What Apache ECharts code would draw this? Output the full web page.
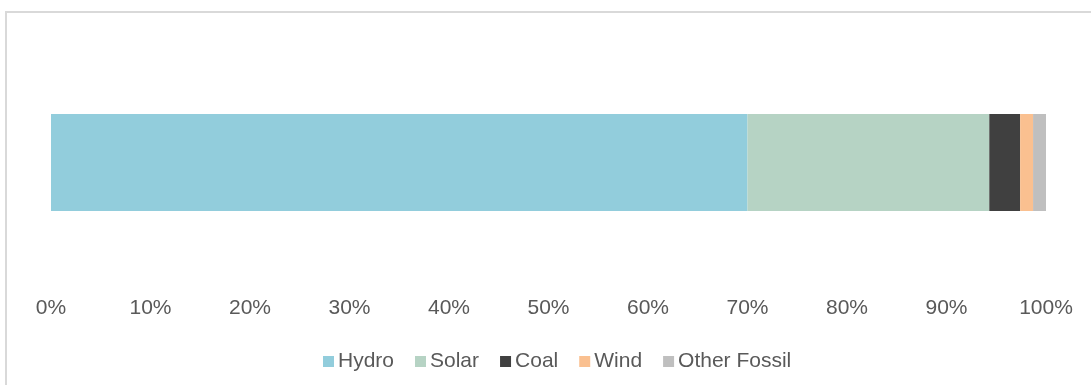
<!DOCTYPE html>
<html>
<head>
<meta charset="utf-8">
<script src="https://cdn.jsdelivr.net/npm/echarts@6/dist/echarts.min.js"></script>
<style>html,body{margin:0;padding:0;background:#fff;}#c{width:1091px;height:385px;}</style>
</head>
<body>
<div id="c"></div>
<script>
var categories = ['Share'];
var seriesNames = ['Hydro', 'Solar', 'Coal', 'Wind', 'Other Fossil'];
var hydro = [70.0];
var solar = [24.3];
var coal = [3.1];
var wind = [1.3];
var otherFossil = [1.3];
var tickLabels = ['0%','10%','20%','30%','40%','50%','60%','70%','80%','90%','100%'];
var colors = ['#92CDDC', '#B6D3C4', '#404040', '#FAC090', '#BFBFBF'];

var values = [hydro, solar, coal, wind, otherFossil];
var chart = echarts.init(document.getElementById('c'), null, {renderer: 'canvas'});
var font = '"Liberation Sans", Arial, sans-serif';
chart.setOption({
  animation: false,
  textStyle: {fontFamily: font},
  graphic: [
    {type: 'line', shape: {x1: 5, y1: 12, x2: 1091, y2: 12}, style: {stroke: '#d9d9d9', lineWidth: 2}},
    {type: 'line', shape: {x1: 6, y1: 11, x2: 6, y2: 385}, style: {stroke: '#d9d9d9', lineWidth: 2}}
  ],
  grid: {left: 51, right: 45, top: 40, bottom: 100},
  xAxis: {
    type: 'value', min: 0, max: 100, interval: 10,
    axisLine: {show: false}, axisTick: {show: false}, splitLine: {show: false},
    axisLabel: {
      color: '#595959', fontSize: 21, fontFamily: font, margin: 13,
      formatter: function (v) { return tickLabels[Math.round(v / 10)]; }
    }
  },
  yAxis: {
    type: 'category', data: categories,
    axisLine: {show: false}, axisTick: {show: false}, axisLabel: {show: false}
  },
  legend: {
    left: 318, top: 346,
    icon: 'rect', itemWidth: 11, itemHeight: 11, itemGap: 21,
    textStyle: {color: '#595959', fontSize: 21, fontFamily: font, padding: [0, 0, 0, -1]},
    data: seriesNames
  },
  series: seriesNames.map(function (n, i) {
    return {
      name: n, type: 'bar', stack: 'total', barWidth: 97,
      itemStyle: {color: colors[i]},
      data: values[i]
    };
  })
});
</script>
</body>
</html>
